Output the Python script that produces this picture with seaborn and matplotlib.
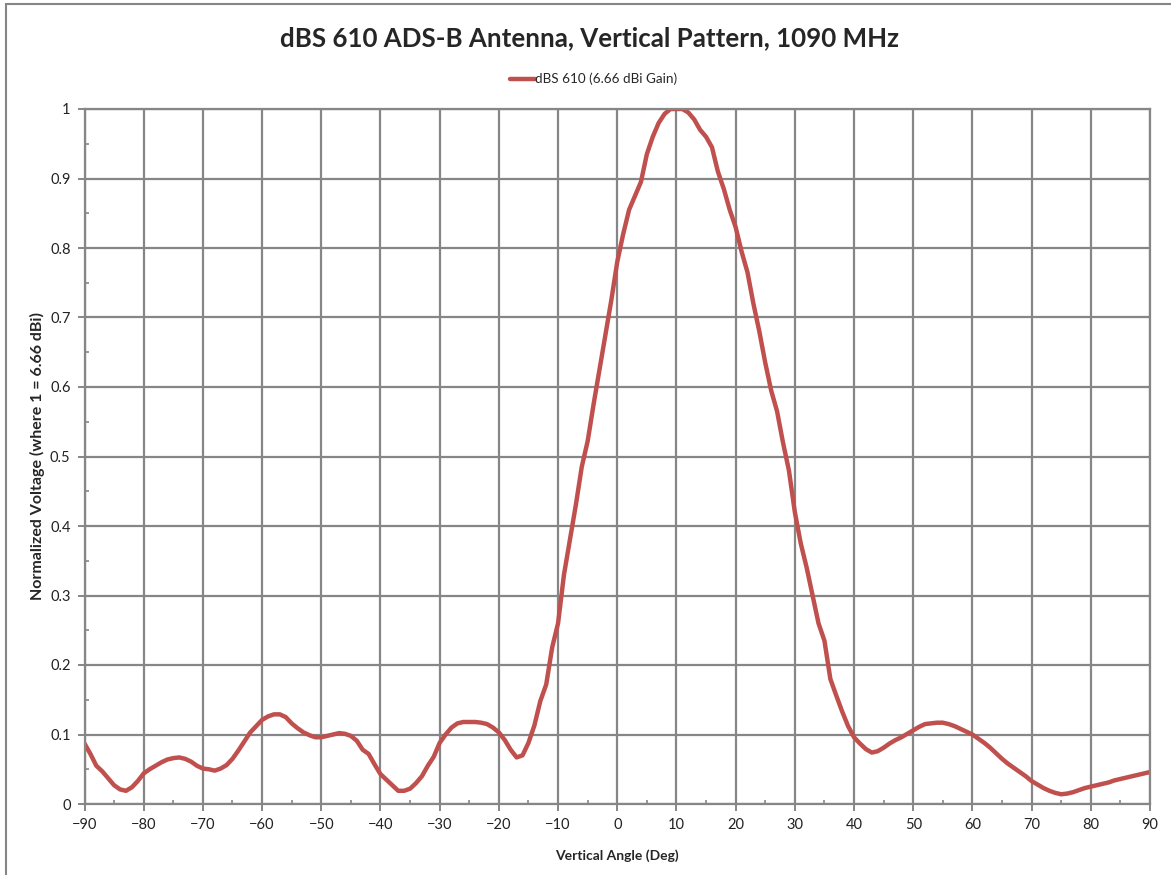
import numpy as np
import pandas as pd
import matplotlib
matplotlib.use("Agg")
import matplotlib.pyplot as plt
import seaborn as sns
from matplotlib.patches import Rectangle
from matplotlib.ticker import MultipleLocator

# angulo vertical (grados), un punto por grado
angulos = list(range(-90, 91))

# voltaje normalizado
volt_izq = [0.087, 0.072, 0.055, 0.047, 0.037, 0.027, 0.021, 0.019, 0.024, 0.033,   # -90..-81
            0.044, 0.050, 0.055, 0.060, 0.064, 0.066, 0.067, 0.065, 0.061, 0.055,   # -80..-71
            0.051, 0.050, 0.048, 0.051, 0.056, 0.065, 0.077, 0.090, 0.103, 0.112,   # -70..-61
            0.121, 0.126, 0.129, 0.129, 0.125, 0.116, 0.109, 0.103, 0.099, 0.096,   # -60..-51
            0.096, 0.098, 0.100, 0.102, 0.101, 0.098, 0.091, 0.078, 0.072, 0.057,   # -50..-41
            0.043, 0.035, 0.027, 0.019, 0.019, 0.022, 0.030, 0.040, 0.055, 0.068,   # -40..-31
            0.088, 0.100, 0.110, 0.116, 0.118, 0.118, 0.118, 0.117, 0.115, 0.110,   # -30..-21
            0.103, 0.092, 0.078, 0.067, 0.070, 0.088, 0.113, 0.148, 0.172, 0.225]   # -20..-11
volt_lobulo = [0.260, 0.330, 0.380, 0.430, 0.485, 0.522, 0.575, 0.625, 0.675, 0.725,  # -10..-1
               0.780, 0.820, 0.855, 0.875, 0.895, 0.935, 0.960, 0.980, 0.993, 1.000,  # 0..9
               1.000, 1.000, 0.995, 0.985, 0.970, 0.960, 0.945, 0.910, 0.885, 0.855,  # 10..19
               0.830, 0.795, 0.765, 0.720, 0.680, 0.635, 0.595, 0.565, 0.520, 0.480]  # 20..29
volt_der = [0.420, 0.375, 0.340, 0.300, 0.260, 0.235, 0.180, 0.156, 0.133, 0.112,   # 30..39
            0.096, 0.087, 0.079, 0.074, 0.076, 0.081, 0.087, 0.092, 0.096, 0.101,   # 40..49
            0.106, 0.111, 0.115, 0.116, 0.117, 0.117, 0.115, 0.112, 0.108, 0.104,   # 50..59
            0.100, 0.094, 0.088, 0.081, 0.073, 0.065, 0.058, 0.052, 0.046, 0.040,   # 60..69
            0.033, 0.028, 0.023, 0.019, 0.016, 0.014, 0.015, 0.017, 0.020, 0.023,   # 70..79
            0.025, 0.027, 0.029, 0.031, 0.034, 0.036, 0.038, 0.040, 0.042, 0.044,   # 80..89
            0.046]                                                                  # 90

voltaje = volt_izq + volt_lobulo + volt_der
df = pd.DataFrame({"angulo": angulos, "voltaje": voltaje})

sns.set_style("white")
plt.rcParams['font.family'] = ['Lato', 'DejaVu Sans']

gris = "#868686"
rojo = "#C0504D"

fig = plt.figure(figsize=(11.71, 8.75), dpi=100)
ax = fig.add_axes([84.5 / 1171, 1 - 804 / 875, (1150 - 84.5) / 1171, (804 - 109) / 875])

sns.lineplot(data=df, x="angulo", y="voltaje", ax=ax, color=rojo, linewidth=3.2,
             label="dBS 610 (6.66 dBi Gain)")

ax.set_xlim(-90, 90)
ax.set_ylim(0, 1)
ax.xaxis.set_major_locator(MultipleLocator(10))
ax.xaxis.set_minor_locator(MultipleLocator(5))
ax.yaxis.set_minor_locator(MultipleLocator(0.05))
ax.set_yticks(np.arange(0, 1.01, 0.1))
ax.set_yticklabels(["0"] + [f"{v:.1f}" for v in np.arange(0.1, 0.95, 0.1)] + ["1"])

ax.grid(True, which="major", color=gris, linewidth=1.6)
for s in ax.spines.values():
    s.set_color(gris)
    s.set_linewidth(1.6)
ax.tick_params(which="major", direction="out", length=5, width=1.4, color=gris,
               labelsize=10.5, labelcolor="#222222", pad=5)
ax.tick_params(which="minor", direction="in", length=3, width=1.2, color=gris)
ax.tick_params(axis="both", which="both", left=True, bottom=True)

ax.set_xlabel("Vertical Angle (Deg)", fontsize=10, fontweight="bold")
ax.set_ylabel("Normalized Voltage (where 1 = 6.66 dBi)", fontsize=11.5, fontweight="bold")
ax.xaxis.set_label_coords(0.5, (804 - 856) / 695)
ax.xaxis.label.set_va("center")
ax.yaxis.set_label_coords((37 - 84.5) / 1065.5, 0.5)
ax.yaxis.label.set_va("center")

fig.suptitle("dBS 610 ADS-B Antenna, Vertical Pattern, 1090 MHz", x=590 / 1171, y=1 - 38 / 875,
             va="center", fontsize=18.6, fontweight="bold")
ax.legend(loc="center", bbox_to_anchor=(594 / 1171, 1 - 79 / 875), bbox_transform=fig.transFigure,
          frameon=False, fontsize=9.7, handlelength=1.8, handletextpad=0.05)

# marco del grafico (solo visible arriba e izquierda)
fig.patches.append(Rectangle((6 / 1171, -0.01), 1.1, 1 - 4 / 875 + 0.01, transform=fig.transFigure,
                             fill=False, edgecolor=gris, linewidth=1.5))

fig.savefig("out.png", dpi=100)
